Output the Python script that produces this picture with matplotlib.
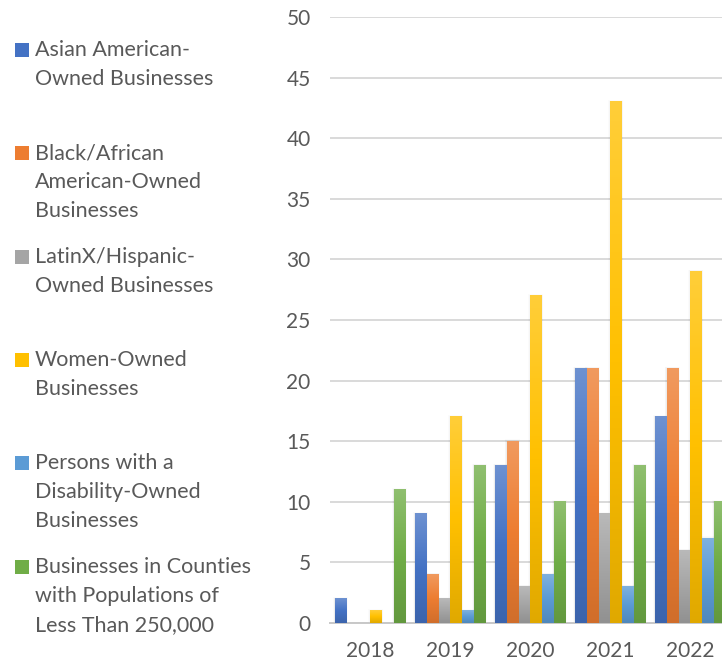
import numpy as np
import matplotlib
matplotlib.use("Agg")
import matplotlib.pyplot as plt
from matplotlib.colors import LinearSegmentedColormap, to_rgb
from matplotlib.patches import Rectangle

plt.rcParams['font.family'] = ['Lato', 'DejaVu Sans']

years = ['2018', '2019', '2020', '2021', '2022']
series_names = [
    "Asian American-\nOwned Businesses",
    "Black/African\nAmerican-Owned\nBusinesses",
    "LatinX/Hispanic-\nOwned Businesses",
    "Women-Owned\nBusinesses",
    "Persons with a\nDisability-Owned\nBusinesses",
    "Businesses in Counties\nwith Populations of\nLess Than 250,000",
]
asian = [2, 9, 13, 21, 17]
black = [0, 4, 15, 21, 21]
latinx = [0, 2, 3, 9, 6]
women = [1, 17, 27, 43, 29]
disability = [0, 1, 4, 3, 7]
counties = [11, 13, 10, 13, 10]
values = [asian, black, latinx, women, disability, counties]
colors = ['#4472C4', '#ED7D31', '#A5A5A5', '#FFC000', '#5B9BD5', '#70AD47']

text_col = '#595959'
W, H = 722, 665


def grad_cmap(c):
    r = np.array(to_rgb(c))
    top = r + (1 - r) * 0.22
    bot = r * 0.88
    return LinearSegmentedColormap.from_list('g', [bot, r, top])


fig = plt.figure(figsize=(W / 100, H / 100), dpi=100)
ax = fig.add_axes([330 / W, 42 / H, 400 / W, 606 / H])

step = 0.148
width = 0.138
x = np.arange(len(years))
grad = np.linspace(0, 1, 64).reshape(-1, 1)

for j, (vals, col) in enumerate(zip(values, colors)):
    pos = x + (j - 2.5) * step
    cmap = grad_cmap(col)
    for xp, v in zip(pos, vals):
        if v <= 0:
            continue
        # soft shadow around the bar
        for k, a in enumerate([0.035, 0.025, 0.015]):
            d = 0.008 * (k + 1)
            ax.add_patch(Rectangle((xp - width / 2 - d, 0), width + 2 * d, v + d * 6,
                                   facecolor='k', edgecolor='none', alpha=a, zorder=2))
        ax.imshow(grad, cmap=cmap, origin='lower', aspect='auto', interpolation='bilinear',
                  extent=[xp - width / 2, xp + width / 2, 0, v], zorder=3)

ax.set_xlim(-0.5, 4.5)
ax.set_ylim(0, 50)
ax.set_yticks(range(0, 51, 5))
ax.set_xticks(x)
ax.set_xticklabels(years)
ax.yaxis.grid(True, color='#D9D9D9', linewidth=1.4, zorder=0)
ax.set_axisbelow(True)
for s in ['top', 'right', 'left']:
    ax.spines[s].set_visible(False)
ax.spines['bottom'].set_color('#C8C8C8')
ax.spines['bottom'].set_linewidth(1.4)
ax.tick_params(axis='both', length=0, labelsize=15, labelcolor=text_col)
ax.tick_params(axis='y', pad=14)
ax.tick_params(axis='x', pad=13)

# legend on the left
first_line_y = [50, 153, 257, 360, 463, 567]
line_gap = 29
for name, col, y0 in zip(series_names, colors, first_line_y):
    sq = Rectangle((15 / W, 1 - (y0 + 7) / H), 14 / W, 14 / H, transform=fig.transFigure,
                   facecolor=col, edgecolor='none')
    fig.patches.append(sq)
    for i, line in enumerate(name.split('\n')):
        fig.text(35 / W, 1 - (y0 + i * line_gap) / H, line, fontsize=15.5,
                 color=text_col, va='center', ha='left')

fig.savefig('out.png', dpi=100)
